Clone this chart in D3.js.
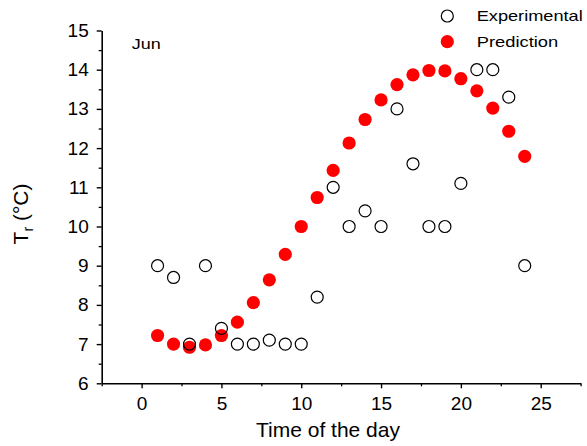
<!DOCTYPE html>
<html>
<head>
  <meta charset="utf-8" />
  <script src="https://d3js.org/d3.v7.min.js"></script>
  <style>
    body { margin: 0; background: #fff; }
    svg text { font-family: "Liberation Sans", Arial, sans-serif; fill: #000; }
  </style>
</head>
<body>
<svg id="chart" width="587" height="446"></svg>
<script>
  // hours of the day
  const hours = d3.range(1, 25);

  // measured values
  const experimental = [9.0, 8.7, 7.0, 9.0, 7.4, 7.0, 7.0, 7.1, 7.0, 7.0, 8.2, 11.0,
                        10.0, 10.4, 10.0, 13.0, 11.6, 10.0, 10.0, 11.1, 14.0, 14.0, 13.3, 9.0];

  // model prediction
  const prediction = [7.22, 7.0, 6.92, 6.98, 7.22, 7.56, 8.06, 8.64, 9.29, 10.0, 10.74, 11.43,
                      12.13, 12.73, 13.23, 13.62, 13.87, 13.98, 13.97, 13.77, 13.46, 13.02, 12.43, 11.79];

  const xTicks = [0, 5, 10, 15, 20, 25];
  const yTicks = [6, 7, 8, 9, 10, 11, 12, 13, 14, 15];

  const svg = d3.select('#chart');

  const x = d3.scaleLinear().domain([-2.5, 27.5]).range([101.7, 580.6]);
  const y = d3.scaleLinear().domain([6, 15]).range([383.3, 30.5]);

  // minor ticks (half steps)
  const xMinor = d3.range(-2.5, 27.6, 2.5).filter(v => !xTicks.includes(v));
  const yMinor = d3.range(6.5, 15, 1);

  svg.append('g')
    .attr('transform', 'translate(0,383.3)')
    .call(d3.axisBottom(x).tickValues(xMinor).tickSize(3).tickFormat(''))
    .call(g => g.select('.domain').remove())
    .selectAll('line').attr('stroke-width', 1.3);

  svg.append('g')
    .attr('transform', 'translate(101.7,0)')
    .call(d3.axisLeft(y).tickValues(yMinor).tickSize(3).tickFormat(''))
    .call(g => g.select('.domain').remove())
    .selectAll('line').attr('stroke-width', 1.3);

  const xAxis = svg.append('g')
    .attr('transform', 'translate(0,383.3)')
    .call(d3.axisBottom(x).tickValues(xTicks).tickSize(5).tickPadding(8.5).tickSizeOuter(0));
  xAxis.select('.domain').attr('stroke-width', 1.6);
  xAxis.selectAll('line').attr('stroke-width', 1.4);
  xAxis.selectAll('text').attr('font-size', 19).attr('font-family', '"Liberation Sans", Arial, sans-serif');

  const yAxis = svg.append('g')
    .attr('transform', 'translate(101.7,0)')
    .call(d3.axisLeft(y).tickValues(yTicks).tickSize(5).tickPadding(8).tickSizeOuter(0));
  yAxis.select('.domain').attr('stroke-width', 1.6);
  yAxis.selectAll('line').attr('stroke-width', 1.4);
  yAxis.selectAll('text').attr('font-size', 19).attr('font-family', '"Liberation Sans", Arial, sans-serif');

  // axis titles
  svg.append('text')
    .attr('x', 328).attr('y', 436.7)
    .attr('text-anchor', 'middle')
    .attr('font-size', 21)
    .text('Time of the day');

  const yt = svg.append('text')
    .attr('transform', 'translate(28,214) rotate(-90)')
    .attr('text-anchor', 'middle')
    .attr('font-size', 21);
  yt.append('tspan').text('T');
  yt.append('tspan').attr('font-size', 14).attr('dy', 5).text('r');
  yt.append('tspan').attr('dy', -5).text(' (°C)');

  // panel label
  svg.append('text')
    .attr('x', 131.7).attr('y', 49)
    .attr('font-size', 15)
    .attr('textLength', 29).attr('lengthAdjust', 'spacingAndGlyphs')
    .text('Jun');

  // prediction points
  svg.append('g').selectAll('circle')
    .data(hours)
    .join('circle')
    .attr('cx', (d, i) => x(d))
    .attr('cy', (d, i) => y(prediction[i]))
    .attr('r', 6.6)
    .attr('fill', '#ff0000');

  // experimental points
  svg.append('g').selectAll('circle')
    .data(hours)
    .join('circle')
    .attr('cx', (d, i) => x(d))
    .attr('cy', (d, i) => y(experimental[i]))
    .attr('r', 6)
    .attr('fill', 'none')
    .attr('stroke', '#000')
    .attr('stroke-width', 1.2);

  // legend
  const legend = svg.append('g');
  legend.append('circle')
    .attr('cx', 447.3).attr('cy', 16).attr('r', 6)
    .attr('fill', 'none').attr('stroke', '#000').attr('stroke-width', 1.2);
  legend.append('text')
    .attr('x', 476.7).attr('y', 21)
    .attr('font-size', 14.5)
    .attr('textLength', 106).attr('lengthAdjust', 'spacingAndGlyphs')
    .text('Experimental');
  legend.append('circle')
    .attr('cx', 447.3).attr('cy', 41.7).attr('r', 6.6)
    .attr('fill', '#ff0000');
  legend.append('text')
    .attr('x', 476.7).attr('y', 46.7)
    .attr('font-size', 14.5)
    .attr('textLength', 81.5).attr('lengthAdjust', 'spacingAndGlyphs')
    .text('Prediction');
</script>
</body>
</html>
